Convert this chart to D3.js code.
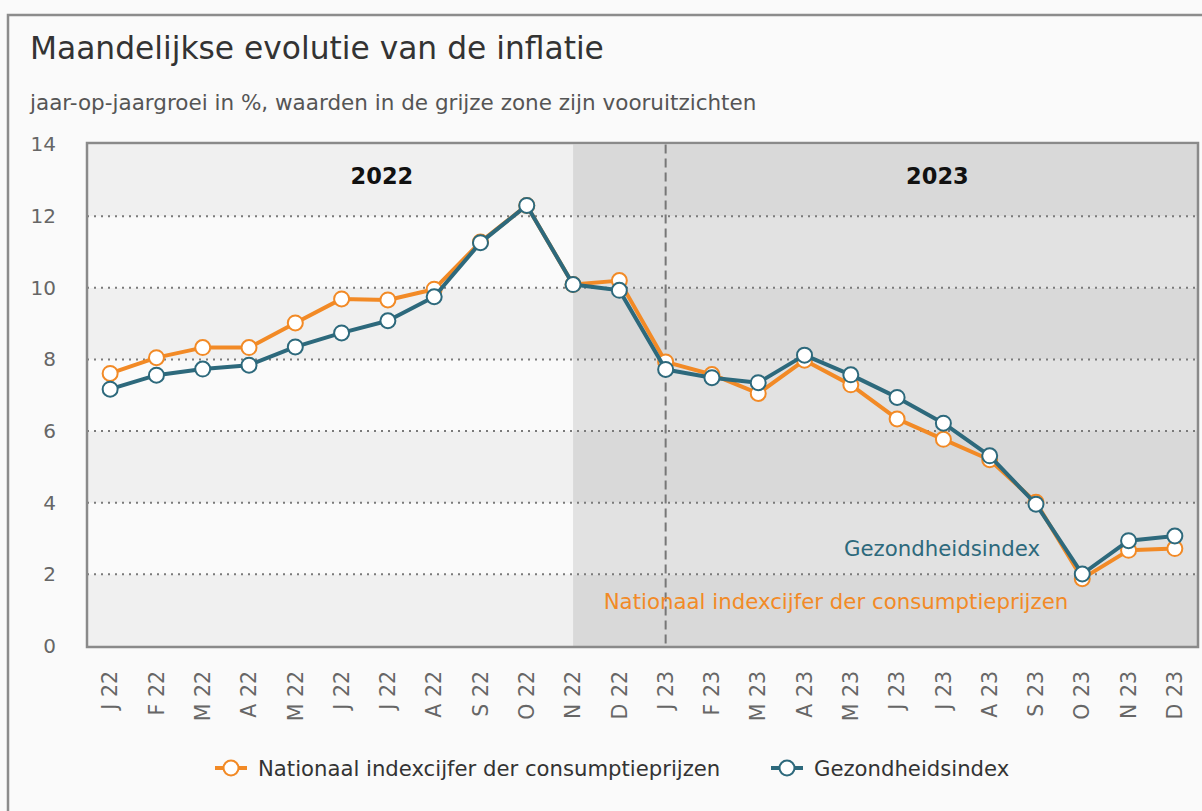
<!DOCTYPE html>
<html><head><meta charset="utf-8">
<script src="https://cdn.jsdelivr.net/npm/d3@7"></script>
<style>
html,body{margin:0;padding:0;background:#fafafa;}
svg{display:block;}
text{font-family:"DejaVu Sans",sans-serif;}
</style></head>
<body><svg id="c" width="1202" height="811"></svg>
<script>
const monthLabels = ["J 22","F 22","M 22","A 22","M 22","J 22","J 22","A 22","S 22","O 22","N 22","D 22",
                     "J 23","F 23","M 23","A 23","M 23","J 23","J 23","A 23","S 23","O 23","N 23","D 23"];
const cpiValues = [7.61,8.05,8.33,8.33,9.02,9.69,9.66,9.96,11.28,12.30,10.09,10.20,
                   7.93,7.58,7.05,7.98,7.29,6.34,5.77,5.20,4.01,1.88,2.67,2.72];
const healthValues = [7.17,7.56,7.73,7.84,8.35,8.74,9.08,9.75,11.26,12.30,10.09,9.93,
                      7.72,7.49,7.35,8.12,7.57,6.94,6.22,5.31,3.96,2.01,2.94,3.07];
const yTicks = [0,2,4,6,8,10,12,14];
const seriesNames = ["Nationaal indexcijfer der consumptieprijzen","Gezondheidsindex"];
const yearLabels = ["2022","2023"];
const forecastStartIndex = 10;   // N 22
const yearSplitIndex = 12;       // J 23

const orange = "#f28a26", teal = "#2d697c";
const svg = d3.select("#c");

// outer frame
svg.append("rect").attr("x",8).attr("y",15).attr("width",1400).attr("height",1000)
  .attr("fill","#fafafa").attr("stroke","#8c8c8c").attr("stroke-width",2.5);

svg.append("text").attr("x",30).attr("y",59).attr("font-size",31.3).attr("fill","#333")
  .text("Maandelijkse evolutie van de inflatie");
svg.append("text").attr("x",30).attr("y",110).attr("font-size",21.5).attr("fill","#555")
  .text("jaar-op-jaargroei in %, waarden in de grijze zone zijn vooruitzichten");

const L=87, R=1198, T=144.5, B=646;
const idx = d3.range(monthLabels.length);
const x = d3.scaleBand().domain(idx).range([L,R]);
const xc = i => x(i) + x.bandwidth()/2;
const y = d3.scaleLinear().domain([0,14]).range([B,T]);

// background bands
const fx = xc(forecastStartIndex);
for (let k=0;k<yTicks.length-1;k++){
  const v0=yTicks[k], v1=yTicks[k+1], even = k%2===0;
  svg.append("rect").attr("x",L).attr("y",y(v1)).attr("width",fx-L).attr("height",y(v0)-y(v1))
    .attr("fill", even ? "#f0f0f0" : "#fafafa");
  svg.append("rect").attr("x",fx).attr("y",y(v1)).attr("width",R-fx).attr("height",y(v0)-y(v1))
    .attr("fill", even ? "#d9d9d9" : "#e2e2e2");
}

// gridlines
svg.append("g").selectAll("line").data(yTicks.filter(v=>v>0 && v<14)).join("line")
  .attr("x1",L).attr("x2",R).attr("y1",d=>y(d)).attr("y2",d=>y(d))
  .attr("stroke","#7a7a7a").attr("stroke-width",2).attr("stroke-dasharray","2,5");

// year split dashed line
svg.append("line").attr("x1",xc(yearSplitIndex)).attr("x2",xc(yearSplitIndex)).attr("y1",T).attr("y2",B)
  .attr("stroke","#777").attr("stroke-width",2).attr("stroke-dasharray","9,5");

// year labels
svg.append("text").attr("x",xc(6)-6).attr("y",184).attr("text-anchor","middle")
  .attr("font-size",22.5).attr("font-weight","bold").attr("fill","#111").text(yearLabels[0]);
svg.append("text").attr("x",xc(18)-6).attr("y",184).attr("text-anchor","middle")
  .attr("font-size",22.5).attr("font-weight","bold").attr("fill","#111").text(yearLabels[1]);

// frame
svg.append("rect").attr("x",L).attr("y",143).attr("width",R-L).attr("height",B-143+1)
  .attr("fill","none").attr("stroke","#8a8a8a").attr("stroke-width",2.5);

// y axis
const yAx = svg.append("g").attr("transform",`translate(${L},0)`)
  .call(d3.axisLeft(y).tickValues(yTicks).tickSize(0).tickPadding(31));
yAx.select(".domain").remove();
yAx.selectAll("text").attr("font-size",20).attr("fill","#666").attr("font-family","DejaVu Sans");

// x axis
const xAx = svg.append("g").attr("transform",`translate(0,${B})`)
  .call(d3.axisBottom(x).tickFormat(i=>monthLabels[i]).tickSize(0));
xAx.select(".domain").remove();
xAx.selectAll("text").attr("font-size",20.5).attr("fill","#666").attr("font-family","DejaVu Sans")
  .attr("text-anchor","end").attr("dy","0.35em")
  .attr("transform","translate(0,25) rotate(-90)").attr("x",0).attr("y",0);

// lines
const line = d3.line().x((d,i)=>xc(i)).y(d=>y(d));
function drawSeries(vals,color){
  const g = svg.append("g");
  g.append("path").datum(vals).attr("d",line).attr("fill","none").attr("stroke",color)
    .attr("stroke-width",4).attr("stroke-linejoin","round");
  g.selectAll("circle").data(vals).join("circle").attr("cx",(d,i)=>xc(i)).attr("cy",d=>y(d))
    .attr("r",7.5).attr("fill","#fff").attr("stroke",color).attr("stroke-width",2);
}
drawSeries(cpiValues,orange);
drawSeries(healthValues,teal);

// series annotations
svg.append("text").attr("x",942).attr("y",556).attr("text-anchor","middle").attr("font-size",21.3)
  .attr("fill",teal).text(seriesNames[1]);
svg.append("text").attr("x",836).attr("y",609).attr("text-anchor","middle").attr("font-size",21.3)
  .attr("fill",orange).text(seriesNames[0]);

// legend
const leg = [{name:seriesNames[0],color:orange,x:231},{name:seriesNames[1],color:teal,x:787}];
leg.forEach(l=>{
  svg.append("line").attr("x1",l.x-16).attr("x2",l.x+16).attr("y1",768).attr("y2",768)
    .attr("stroke",l.color).attr("stroke-width",4);
  svg.append("circle").attr("cx",l.x).attr("cy",768).attr("r",7.5).attr("fill","#fff")
    .attr("stroke",l.color).attr("stroke-width",2);
  svg.append("text").attr("x",l.x+27).attr("y",776).attr("font-size",21.2).attr("fill","#333").text(l.name);
});
</script></body></html>
